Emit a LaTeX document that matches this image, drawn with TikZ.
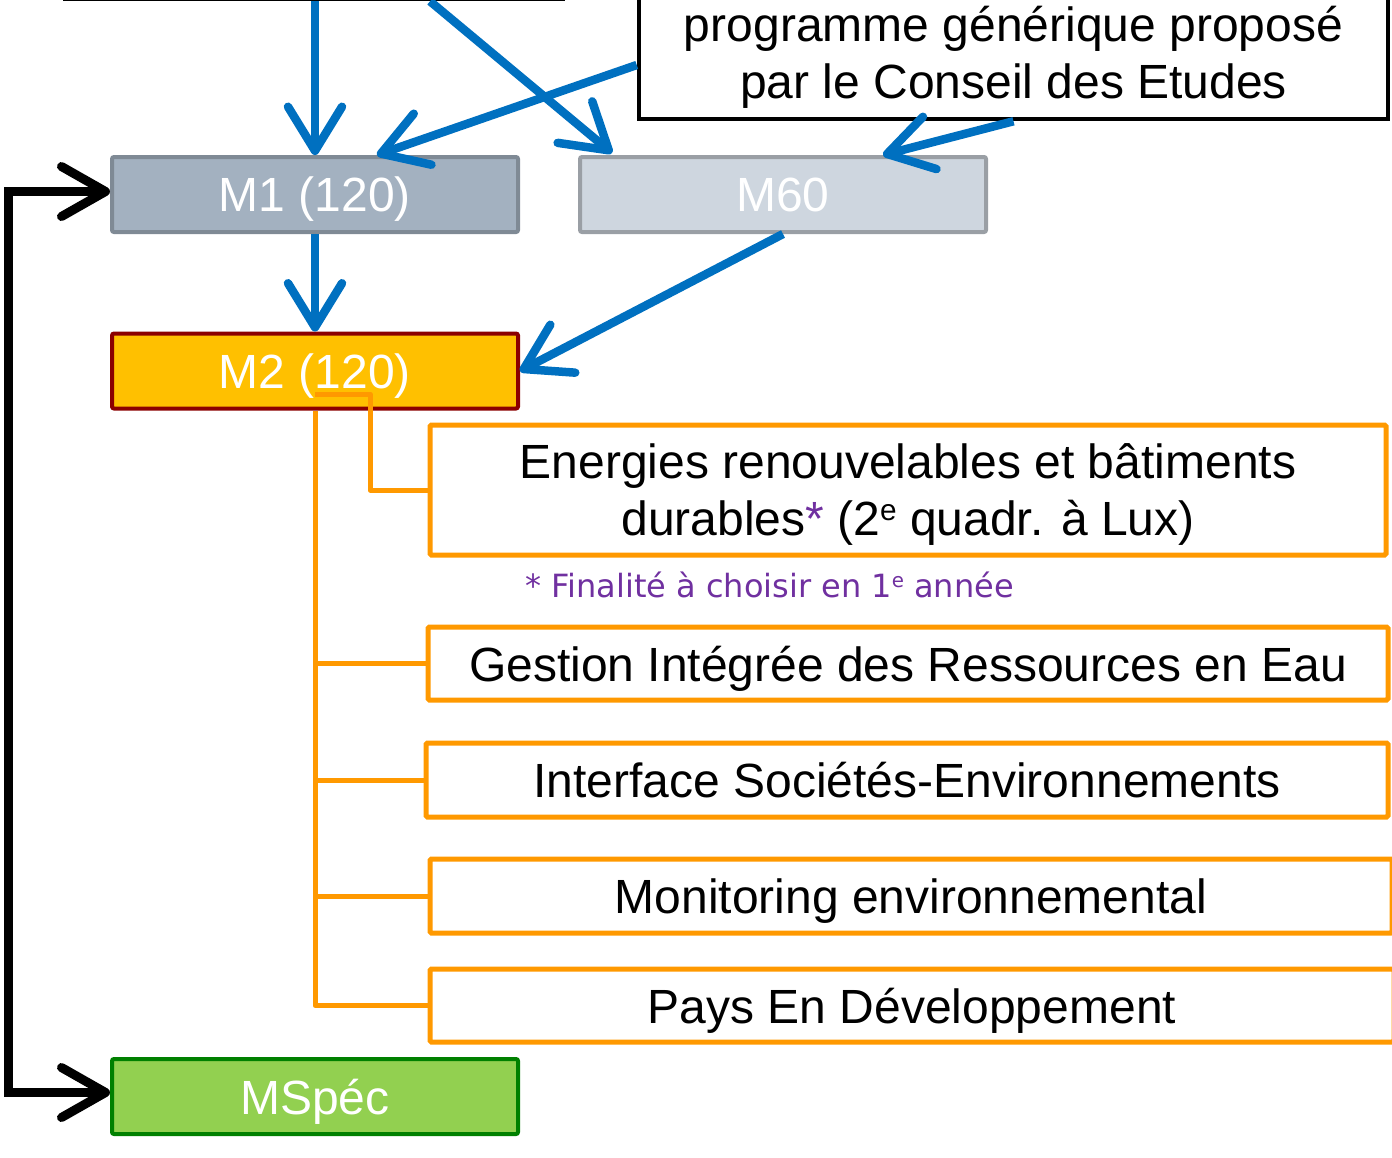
\documentclass[tikz,border=0pt]{standalone}
\usepackage{fontspec}
\setmainfont{Liberation Sans}
\newfontfamily\verd{DejaVu Sans}
\usetikzlibrary{arrows.meta,calc}
\definecolor{blueC}{HTML}{0070C0}
\definecolor{orangeC}{HTML}{FF9900}
\definecolor{mIfill}{HTML}{A3B1C0}
\definecolor{mIdraw}{HTML}{7F8A95}
\definecolor{msixfill}{HTML}{CED6DF}
\definecolor{msixdraw}{HTML}{9A9FA5}
\definecolor{mIIfill}{HTML}{FFC000}
\definecolor{mIIdraw}{HTML}{8B0000}
\definecolor{mspfill}{HTML}{92D050}
\definecolor{mspdraw}{HTML}{008000}
\definecolor{purpleC}{HTML}{7030A0}
\newcommand{\supe}[1]{\raisebox{0.33em}{\scalebox{0.62}{#1}}}
\begin{document}
\begin{tikzpicture}[x=1pt,y=-1pt,
  bigfont/.style={font=\fontsize{48}{57}\selectfont, text depth=0pt},
  mbox/.style={draw, line width=4pt, rounded corners=2pt, minimum width=406pt,
    minimum height=75pt, inner sep=0pt, text=white, bigfont},
  obox/.style={draw=orangeC, line width=5pt, rounded corners=1.5pt, fill=white,
    inner sep=0pt, align=center, bigfont},
  kbox/.style={draw=black, line width=4.5pt, fill=white, inner sep=0pt, align=center, bigfont},
  bluearr/.style={draw=blueC, line width=8.5pt, -{Straight Barb[length=44pt, width=54pt, round]}},
  blackarr/.style={draw=black, line width=9pt, {Straight Barb[length=44pt, width=50pt, round]}-{Straight Barb[length=44pt, width=50pt, round]}},
  oline/.style={draw=orangeC, line width=5pt, line join=round}]
\useasboundingbox (0,0) rectangle (1392,1157);
% boxes
\node[kbox, minimum width=498pt, minimum height=96pt] (src) at (314,-49) {};
\node[kbox, minimum width=749pt, minimum height=134pt] (prog) at (1013.5,52)
  {programme générique proposé\\par le Conseil des Etudes};
\node[mbox, fill=mIfill, draw=mIdraw] (M1) at (315,194.5) {M1 (120)};
\node[mbox, fill=msixfill, draw=msixdraw] (M60) at (783,194.5) {M60};
\node[mbox, fill=mIIfill, draw=mIIdraw] (M2) at (315,371) {M2 (120)};
\node[mbox, fill=mspfill, draw=mspdraw] (MS) at (315,1096.5) {MSpéc};
\node[obox, minimum width=956pt, minimum height=130pt] (E) at (908,490)
  {Energies renouvelables et bâtiments\\durables{\color{purpleC}*} (2\supe{e} quadr. à Lux)};
\node[text=purpleC, inner sep=0pt, font=\verd\fontsize{32}{38}\selectfont] (note) at (769.5,585)
  {* Finalité à choisir en 1\supe{e} année};
\node[obox, minimum width=960pt, minimum height=73pt] (G) at (908,663.5)
  {Gestion Intégrée des Ressources en Eau};
\node[obox, minimum width=962pt, minimum height=74pt] (I) at (907,780)
  {Interface Sociétés-Environnements};
\node[obox, minimum width=962pt, minimum height=74pt] (Mo) at (911,896)
  {Monitoring environnemental};
\node[obox, minimum width=964pt, minimum height=73pt] (P) at (912,1005.5)
  {Pays En Développement};
% orange tree
\draw[oline] (M2.south) -- (M2.south |- P.west) -- (P.west);
\draw[oline] (M2.south |- G.west) -- (G.west);
\draw[oline] (M2.south |- I.west) -- (I.west);
\draw[oline] (M2.south |- Mo.west) -- (Mo.west);
\draw[oline] ([yshift=-23pt]M2.center) -- ++(55,0) |- (E.west);
% blue arrows
\draw[bluearr] (M1.north |- src.south) -- (M1.north);
\draw[bluearr] ([xshift=116pt]src.south) -- ([xshift=34pt,yshift=2pt]M60.north west);
\draw[bluearr] ([yshift=-13pt]prog.west) -- ([xshift=62pt]M1.north);
\draw[bluearr] (prog.south) -- ([xshift=100pt]M60.north);
\draw[bluearr] (M1.south) -- (M2.north);
\draw[bluearr] (M60.south) -- (M2.east);
% black arrow
\draw[blackarr] ([yshift=3pt]M1.west) -- ++(-102,0) |- ([yshift=4pt]MS.west);
\end{tikzpicture}
\end{document}
